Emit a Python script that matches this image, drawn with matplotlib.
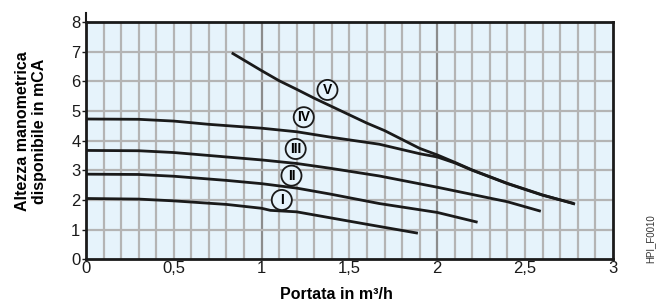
import matplotlib.pyplot as plt
import numpy as np

plt.rcParams['font.family'] = ['Liberation Sans', 'DejaVu Sans']

# curve data (portata m3/h, altezza mCA)
x_I = [0, 0.3, 0.5, 0.8, 1.0, 1.05, 1.2, 1.39, 1.6, 1.89]
y_I = [2.05, 2.03, 1.97, 1.85, 1.72, 1.65, 1.6, 1.4, 1.18, 0.88]

x_II = [0, 0.3, 0.5, 0.8, 1.0, 1.2, 1.39, 1.67, 2.0, 2.23]
y_II = [2.87, 2.86, 2.8, 2.66, 2.55, 2.4, 2.2, 1.88, 1.58, 1.25]

x_III = [0, 0.3, 0.5, 0.8, 1.0, 1.2, 1.39, 1.67, 2.0, 2.4, 2.59]
y_III = [3.67, 3.66, 3.6, 3.45, 3.35, 3.23, 3.07, 2.81, 2.43, 1.94, 1.62]

x_IV = [0, 0.3, 0.5, 0.7, 1.0, 1.2, 1.39, 1.67, 1.9, 2.0, 2.1, 2.2, 2.4, 2.6, 2.78]
y_IV = [4.73, 4.72, 4.66, 4.55, 4.42, 4.3, 4.12, 3.88, 3.56, 3.45, 3.25, 3.0, 2.55, 2.16, 1.88]

x_V = [0.83, 1.0, 1.1, 1.2, 1.3, 1.4, 1.5, 1.6, 1.7, 1.9, 2.0, 2.1, 2.2, 2.4, 2.6, 2.785]
y_V = [6.96, 6.36, 6.02, 5.73, 5.43, 5.15, 4.87, 4.59, 4.34, 3.74, 3.52, 3.27, 3.01, 2.56, 2.17, 1.86]

curve_names = ['I', 'II', 'III', 'IV', 'V']
label_x = [1.115, 1.17, 1.194, 1.24, 1.375]
label_y = [2.0, 2.82, 3.72, 4.79, 5.71]

bg = '#e6f3fb'

fig = plt.figure(figsize=(6.62, 3.02), dpi=100)
ax = fig.add_axes([0.1299, 0.1414, 0.7958, 0.7857])
ax.set_facecolor(bg)

ax.set_xlim(0, 3)
ax.set_ylim(0, 8)

# grid
for gx in np.arange(0.1, 3.0, 0.1):
    major = abs(gx - round(gx)) < 1e-6
    ax.axvline(gx, color='#8c8c8c' if major else '#b4b4b4', lw=1.6, zorder=1)
for gy in range(1, 8):
    ax.axhline(gy, color='#b4b4b4', lw=1.6, zorder=1)

for xs, ys in [(x_I, y_I), (x_II, y_II), (x_III, y_III), (x_IV, y_IV), (x_V, y_V)]:
    ax.plot(xs, ys, color='#1a1a1a', lw=2.0, solid_capstyle='butt', zorder=3)

for name, lx, ly in zip(curve_names, label_x, label_y):
    ax.text(lx, ly, name, ha='center', va='center', fontsize=10, fontweight='bold',
            bbox=dict(boxstyle='circle,pad=0.22', fc=bg, ec='#1a1a1a', lw=1.3), zorder=4)

for s in ax.spines.values():
    s.set_linewidth(2.0)
    s.set_color('#1a1a1a')
    s.set_zorder(5)

# left axis line sticks out above the frame
ax.plot([0, 0], [8, 8.3], color='#1a1a1a', lw=1.5, clip_on=False)

ax.set_xticks([0, 0.5, 1, 1.5, 2, 2.5, 3])
ax.set_xticklabels(['0', '0,5', '1', '1,5', '2', '2,5', '3'])
ax.set_yticks(range(0, 9))
ax.tick_params(axis='x', length=0, pad=1, labelsize=12, colors='#1a1a1a')
ax.tick_params(axis='y', length=3, width=1, direction='out', pad=1, labelsize=12, colors='#1a1a1a')

ax.set_xlabel('Portata in m³/h', fontsize=11.5, fontweight='bold')
ax.set_ylabel('Altezza manometrica\ndisponibile in mCA', fontsize=11.5, fontweight='bold')
ax.xaxis.set_label_coords(0.476, -0.118)
ax.yaxis.set_label_coords(-0.074, 0.54)

fig.text(0.982, 0.21, 'HPI_F0010', rotation=90, fontsize=7, color='#333333',
         ha='center', va='center')

fig.savefig('out.png', dpi=100)
